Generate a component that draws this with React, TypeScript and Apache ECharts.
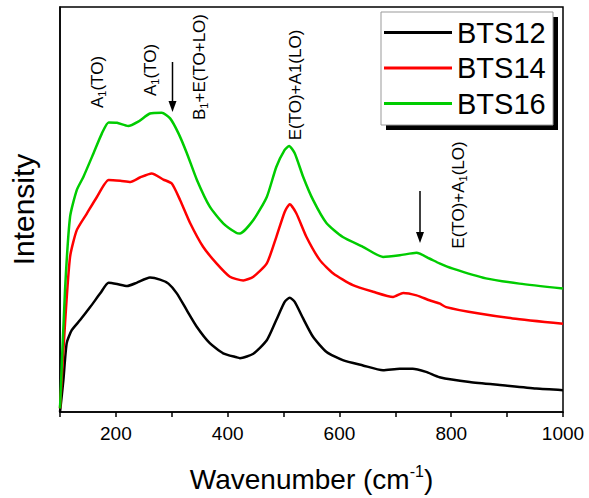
import React, { useEffect, useRef } from "react";
import * as echarts from "echarts";

const seriesNames = ["BTS12", "BTS14", "BTS16"];
const seriesColors = ["#000000", "#ff0000", "#00cc00"];

const bts12X = [100, 106, 112, 121, 136, 154, 172, 187, 202, 220, 237, 261, 279, 294, 309, 327, 345, 368, 392, 416, 422, 446, 470, 487, 502, 511, 520, 535, 553, 577, 606, 642, 678, 708, 731, 755, 779, 833, 892, 952, 1000];
const bts12Y = [0, 7.8, 17.0, 20.2, 22.7, 25.9, 29.3, 31.9, 31.6, 31.1, 31.9, 33.2, 32.7, 31.7, 29.3, 25.1, 21.0, 17.0, 14.5, 13.5, 13.3, 14.4, 17.7, 22.7, 27.2, 28.2, 27.2, 23.1, 18.5, 14.8, 12.8, 11.5, 10.3, 10.7, 10.7, 9.9, 8.6, 7.4, 6.6, 5.8, 5.4];

const bts14X = [100, 109, 118, 130, 148, 166, 187, 208, 226, 243, 264, 285, 300, 315, 333, 356, 380, 404, 428, 446, 470, 487, 502, 511, 523, 541, 565, 589, 624, 660, 696, 714, 738, 761, 779, 791, 850, 910, 1000];
const bts14Y = [0.9, 21.9, 38.3, 44.9, 49.0, 53.1, 57.3, 57.1, 56.8, 57.9, 58.9, 57.4, 56.4, 52.3, 46.6, 40.8, 36.7, 33.4, 32.5, 33.4, 36.7, 43.2, 49.4, 51.3, 49.0, 43.2, 37.5, 34.2, 31.3, 29.7, 28.4, 29.4, 28.8, 27.6, 26.8, 25.9, 24.3, 23.1, 21.8];

const bts16X = [100, 109, 118, 130, 142, 160, 175, 187, 202, 222, 240, 261, 282, 297, 312, 327, 345, 368, 392, 416, 422, 446, 470, 487, 502, 510, 520, 535, 553, 577, 606, 642, 678, 708, 738, 761, 779, 803, 862, 922, 1000];
const bts16Y = [0.9, 30.1, 48.2, 54.8, 58.1, 63.9, 68.8, 71.5, 71.4, 70.6, 71.7, 73.7, 73.9, 72.5, 68.8, 63.9, 57.3, 50.7, 46.6, 44.2, 44.1, 47.4, 53.1, 60.5, 64.7, 65.7, 63.9, 58.1, 52.3, 46.6, 43.2, 40.8, 38.3, 38.7, 39.3, 37.9, 36.7, 35.4, 33.0, 31.7, 30.5];

const xTickLabels = [200, 400, 600, 800, 1000];

const FONT = "'Liberation Sans', Arial, Helvetica, sans-serif";

const pair = (xs: number[], ys: number[]) => xs.map((x, i) => [x, ys[i]]);

export default function App() {
  const ref = useRef<HTMLDivElement>(null);
  useEffect(() => {
    if (!ref.current) return;
    const chart = echarts.init(ref.current, null, { renderer: "svg" });
    const rich = {
      n: { fontSize: 17, fontFamily: FONT, color: "#000", lineHeight: 20 },
      s: { fontSize: 11, fontFamily: FONT, color: "#000", lineHeight: 20, verticalAlign: "bottom" },
    };
    const annot = (text: string, x: number, y: number) => ({
      type: "text",
      x,
      y,
      rotation: Math.PI / 2,
      style: { text, align: "center", verticalAlign: "middle", rich, fontSize: 17, fontFamily: FONT, fill: "#000" },
      z: 10,
    });
    const arrow = (x: number, y1: number, y2: number) => [
      { type: "line", shape: { x1: x, y1, x2: x, y2: y2 - 8 }, style: { stroke: "#000", lineWidth: 1.5 }, z: 10 },
      { type: "polygon", shape: { points: [[x - 4, y2 - 11], [x + 4, y2 - 11], [x, y2]] }, style: { fill: "#000" }, z: 10 },
    ];
    const datas = [pair(bts12X, bts12Y), pair(bts14X, bts14Y), pair(bts16X, bts16Y)];
    chart.setOption({
      animation: false,
      backgroundColor: "#fff",
      grid: { left: 60, right: 26, top: 7, bottom: 86, show: true, borderColor: "#000", borderWidth: 1.5, backgroundColor: "transparent" },
      xAxis: {
        type: "value",
        min: 100,
        max: 1000,
        interval: 100,
        name: "{a|Wavenumber (cm}{b|-1}{a|)}",
        nameLocation: "middle",
        nameGap: 51,
        nameTextStyle: {
          rich: {
            a: { fontSize: 28, fontFamily: FONT, color: "#000", lineHeight: 32 },
            b: { fontSize: 16, fontFamily: FONT, color: "#000", lineHeight: 32, verticalAlign: "top" },
          },
        },
        axisLine: { lineStyle: { color: "#000", width: 1.5 } },
        axisTick: { show: true, inside: false, length: 5, lineStyle: { color: "#000", width: 1.5 } },
        axisLabel: {
          fontSize: 19,
          fontFamily: FONT,
          color: "#000",
          margin: 12,
          formatter: (v: number) => (xTickLabels.includes(v) ? String(v) : ""),
        },
        splitLine: { show: false },
      },
      yAxis: {
        type: "value",
        min: 0,
        max: 100,
        name: "Intensity",
        nameLocation: "middle",
        nameGap: 22,
        nameTextStyle: { fontSize: 30, fontFamily: FONT, color: "#000" },
        axisLine: { show: true, lineStyle: { color: "#000", width: 1.5 } },
        axisTick: { show: false },
        axisLabel: { show: false },
        splitLine: { show: false },
      },
      legend: {
        orient: "vertical",
        left: 384,
        top: 18,
        padding: 0,
        itemGap: 6.5,
        itemWidth: 68,
        itemHeight: 3,
        icon: "rect",
        data: seriesNames,
        textStyle: { fontSize: 29, fontFamily: FONT, color: "#000" },
        z: 20,
      },
      graphic: [
        { type: "rect", shape: { x: 386, y: 17, width: 172, height: 113 }, style: { fill: "#000" }, z: 1 },
        { type: "rect", shape: { x: 381, y: 12, width: 172, height: 113 }, style: { fill: "#fff", stroke: "#999", lineWidth: 1 }, z: 2 },
        annot("{n|A}{s|1}{n|(TO)}", 97, 82),
        annot("{n|A}{s|1}{n|(TO)}", 150, 70),
        annot("{n|B}{s|1}{n|+E(TO+LO)}", 199, 67),
        annot("{n|E(TO)+A1(LO)}", 295, 85),
        annot("{n|E(TO)+A}{s|1}{n|(LO)}", 458, 195),
        ...arrow(172.5, 62, 112),
        ...arrow(420, 191, 243),
      ],
      series: seriesNames.map((name, i) => ({
        name,
        type: "line",
        data: datas[i],
        showSymbol: false,
        symbol: "none",
        smooth: 0.2,
        color: seriesColors[i],
        lineStyle: { color: seriesColors[i], width: 2.5 },
        z: 3,
      })),
    });
    return () => chart.dispose();
  }, []);
  return <div ref={ref} style={{ width: 589, height: 498, position: "absolute", left: 0, top: 0 }} />;
}
